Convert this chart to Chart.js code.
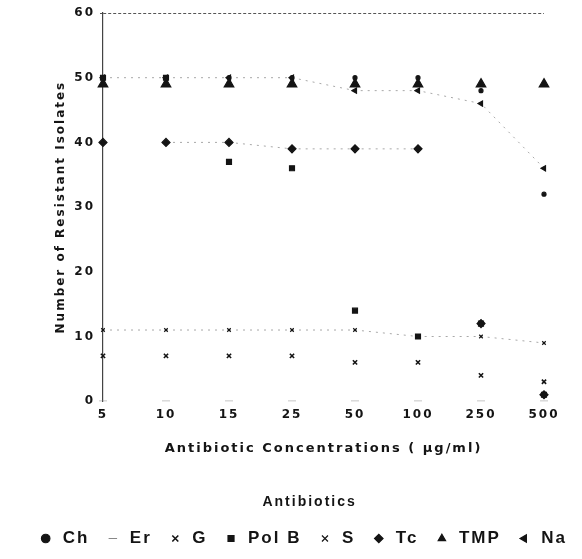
<!DOCTYPE html>
<html>
<head>
<meta charset="utf-8">
<script src="https://cdn.jsdelivr.net/npm/chart.js@4.4.1/dist/chart.umd.min.js"></script>
<style>
html,body{margin:0;padding:0;background:#fff;}
#wrap{width:582px;height:559px;}
</style>
</head>
<body>
<div id="wrap"><canvas id="c" width="582" height="559"></canvas></div>
<script>
const concentrations = ['5', '10', '15', '25', '50', '100', '250', '500'];
const yTicks = [0, 10, 20, 30, 40, 50, 60];

const chValues   = [50, 50, 50, 50, 50, 50, 48, 32];
const erValues   = [0, 0, 0, 0, 0, 0, 0, 0];
const gValues    = [7, 7, 7, 7, 6, 6, 4, 3];
const polBValues = [50, 50, 37, 36, 14, 10, 12, 1];
const sValues    = [11, 11, 11, 11, 11, 10, 10, 9];
const tcValues   = [40, 40, 40, 39, 39, 39, 12, 1];
const tmpValues  = [49, 49, 49, 49, 49, 49, 49, 49];
const naValues   = [50, 50, 50, 50, 48, 48, 46, 36];

const INK = '#141414';
const LINE = '#a8a8a8';
const SANS = "'Liberation Sans', Arial, sans-serif";
const DEJA = "'DejaVu Sans', sans-serif";

const spacing = {
  id: 'spacing',
  beforeUpdate(chart) { chart.ctx.letterSpacing = '2px'; },
  beforeDraw(chart) { chart.ctx.letterSpacing = '2px'; }
};

function ds(label, data, style, radius, opts) {
  return Object.assign({
    label: label,
    data: data,
    pointStyle: style,
    pointRadius: radius,
    pointHoverRadius: radius,
    pointBackgroundColor: INK,
    pointBorderColor: INK,
    pointBorderWidth: 1.2,
    backgroundColor: INK,
    borderColor: LINE,
    borderWidth: 1,
    borderDash: [2, 5],
    showLine: false,
    fill: false
  }, opts || {});
}

const tcShown = [false, true, true, true, true, false, false];

const datasets = [
  ds('Ch', chValues, 'circle', 2),
  ds('Er', erValues, 'line', 4, {pointBorderColor: '#888', pointBorderWidth: 1}),
  ds('G', gValues, 'crossRot', 3, {pointBorderWidth: 1.6}),
  ds('Pol B', polBValues, 'rect', 3.5),
  ds('S', sValues, 'crossRot', 2.5, {showLine: true}),
  ds('Tc', tcValues, 'rectRot', 4, {showLine: true,
     segment: { borderColor: c => tcShown[c.p0DataIndex] ? LINE : 'rgba(0,0,0,0)' }}),
  ds('TMP', tmpValues, 'triangle', 5.5),
  ds('Na', naValues, 'triangle', 3, {rotation: -90, showLine: true})
];

new Chart(document.getElementById('c'), {
  type: 'line',
  data: { labels: concentrations, datasets: datasets },
  plugins: [spacing],
  options: {
    responsive: false,
    animation: false,
    devicePixelRatio: 1,
    layout: { padding: { left: 0, right: 0, top: 13, bottom: 2 } },
    scales: {
      x: {
        offset: false,
        grid: { display: false, drawTicks: false },
        border: { display: false },
        ticks: { color: INK, font: { family: DEJA, size: 12, weight: 'bold' }, padding: 6, maxRotation: 0 },
        title: {
          display: true,
          text: 'Antibiotic Concentrations ( \u00b5g/ml)',
          color: INK,
          font: { family: DEJA, size: 13, weight: 'bold' },
          padding: { top: 13, bottom: 4 }
        }
      },
      y: {
        min: 0, max: 60,
        afterBuildTicks: function(axis) { axis.ticks = yTicks.map(v => ({ value: v })); },
        afterFit: function(axis) { axis.width = 103; },
        grid: {
          drawOnChartArea: true,
          drawTicks: true,
          tickLength: 3,
          color: function(ctx) { return ctx.tick && ctx.tick.value === 60 ? '#555' : 'rgba(0,0,0,0)'; },
          lineWidth: 1
        },
        border: { display: true, color: '#444', width: 1.2, dash: [3, 2] },
        ticks: { color: INK, font: { family: DEJA, size: 12, weight: 'bold' }, padding: 5 },
        title: {
          display: true,
          text: 'Number of Resistant Isolates',
          color: INK,
          font: { family: DEJA, size: 12, weight: 'bold' },
          padding: { top: 54, bottom: 0 }
        }
      },
      yR: {
        position: 'right',
        display: true,
        grid: { display: false, drawTicks: false },
        border: { display: false },
        ticks: { display: false },
        afterFit: function(axis) { axis.width = 38; }
      }
    },
    plugins: {
      tooltip: { enabled: false },
      legend: {
        position: 'bottom',
        align: 'end',
        title: {
          display: true,
          text: 'Antibiotics',
          color: INK,
          font: { family: SANS, size: 14, weight: 'bold' },
          padding: { top: 35, bottom: 3 }
        },
        labels: {
          usePointStyle: true,
          boxWidth: 18,
          boxHeight: 6,
          padding: 15,
          color: INK,
          font: { family: SANS, size: 17, weight: 'bold' }
        }
      }
    }
  }
});
</script>
</body>
</html>
